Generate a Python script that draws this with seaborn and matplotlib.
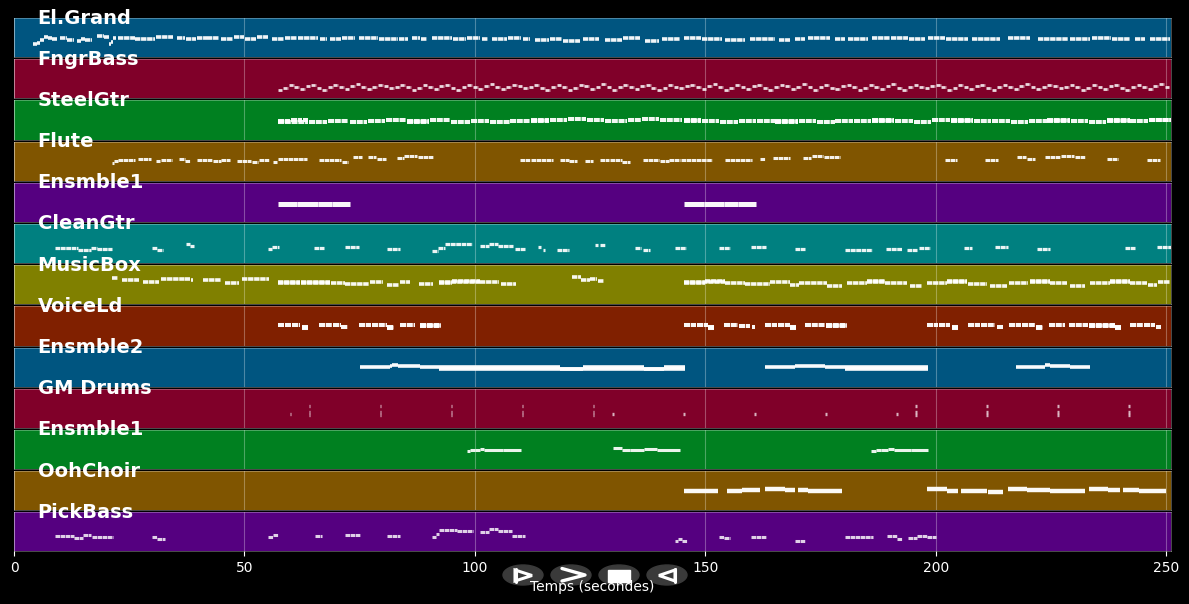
"""Piano-roll overview of a MIDI file: one coloured lane per track."""

import matplotlib

matplotlib.use("Agg")

import matplotlib.pyplot as plt
import numpy as np
import pandas as pd
import seaborn as sns
from matplotlib.patches import Ellipse, Polygon, Rectangle

# notes are (start seconds, end seconds, lane level)
EL_GRAND = [
    (4.2, 4.9, 13), (4.9, 5.6, 15), (5.6, 6.4, 18), (6.4, 7.3, 21), (7.3, 8.3, 20), (8.3, 9.4, 19),
    (9.9, 11.4, 20), (11.6, 13.1, 18), (13.6, 14.6, 17), (14.6, 15.3, 19), (15.3, 17, 18),
    (17.9, 19.6, 22), (19.6, 20.7, 21), (20.7, 21, 13), (21, 21.5, 16), (21.5, 22.2, 20),
    (22.5, 26.2, 20), (26.2, 30.5, 19), (30.9, 34.4, 20.5), (35.3, 37, 20), (37.4, 39.5, 19),
    (39.7, 41.8, 20), (41.8, 44.5, 19.5), (44.8, 47.5, 19), (47.8, 50, 21), (50.2, 52.6, 19),
    (52.8, 55, 21), (55.9, 58.5, 19), (58.7, 61.5, 20), (61.7, 65.9, 19.5), (66.3, 68, 19),
    (68.5, 71, 18.5), (71.2, 73.9, 19.5), (74.8, 79, 20), (79.2, 83.2, 19), (83.6, 85.4, 19),
    (86.3, 88, 20), (88.2, 89.7, 19), (90.6, 95, 20), (95.2, 98, 19), (98.2, 101, 20),
    (101.5, 102.8, 18.5), (103.6, 107, 19), (107.2, 110, 20), (110.5, 112, 19), (113, 116, 18),
    (116.2, 118.9, 19), (119, 122.7, 17), (123.4, 127, 19), (128.2, 132, 18), (132.2, 135.7, 19.5),
    (136.8, 140, 17), (140.5, 144.4, 19), (145.3, 149, 20), (149.2, 153.5, 19), (154.2, 158.5, 18),
    (159.6, 165, 19), (166, 168.3, 18), (169.4, 171.5, 18.5), (172.2, 177, 19.5), (178, 180.2, 19),
    (180.9, 185.2, 18.5), (186.1, 190, 19.5), (190.2, 194, 20), (194.2, 197.6, 19), (198.3, 202, 20),
    (202.2, 207, 19), (207.8, 213.9, 19), (215.6, 220.4, 20), (222.1, 228.6, 19), (229, 233.4, 18.5),
    (233.8, 238, 20), (238.2, 242, 19), (243.2, 245.4, 18.5), (246.4, 250.8, 19),
]
# FngrBass is a steady walking line, so only its levels are listed
FNGR_START = 57.2
FNGR_BEAT = 1.21
FNGR_LEVELS = [
    9, 11, 14, 12, 10, 13, 14, 11, 9, 12, 14, 12, 10, 13, 15, 12, 10, 12, 14, 13, 11, 12, 14, 12,
    9, 11, 14, 12, 10, 13, 14, 11, 9, 12, 14, 12, 10, 13, 15, 12, 10, 12, 14, 13, 11, 12, 14, 11,
    9, 12, 14, 12, 9, 11, 14, 13, 10, 12, 15, 12, 9, 12, 14, 12, 10, 13, 14, 11, 9, 11, 14, 12,
    11, 13, 14, 12, 10, 13, 15, 12, 9, 11, 14, 12, 10, 13, 14, 11, 9, 12, 14, 13, 10, 12, 15, 12,
    9, 12, 14, 11, 10, 13, 14, 12, 9, 11, 14, 12, 10, 13, 15, 11, 9, 12, 14, 12, 11, 13, 14, 12,
    9, 11, 14, 12, 10, 13, 14, 11, 9, 12, 14, 12, 10, 13, 15, 12, 10, 12, 14, 13, 11, 12, 14, 12,
    9, 11, 14, 12, 10, 13, 14, 11, 9, 12, 14, 12, 10, 13, 15, 12,
]
STEEL_GTR = [
    (57.2, 59.8, 19), (60, 62.5, 19.5), (62.7, 63.8, 20), (57.2, 63.8, 18), (64, 68, 18), (68.2, 72.5, 18.5),
    (73, 76.5, 18), (76.7, 80.5, 19), (80.7, 85, 19.5), (85.2, 90, 19), (85.2, 90, 18), (90.2, 94.5, 20),
    (94.7, 99, 18), (99.2, 103, 18.5), (103.2, 107.5, 18), (107.7, 112, 19), (112.2, 116, 19.5), (112.2, 116, 18.5),
    (116.2, 120, 20), (120.2, 124, 21), (124.2, 128, 20), (128.2, 133, 19), (133.2, 136, 20), (136.2, 140, 21),
    (140.2, 145, 20), (145.3, 149, 19), (145.3, 149, 20), (149.2, 153, 18.5), (153.2, 157, 18), (157.2, 161, 18.5),
    (161.2, 165, 19), (165.2, 170, 19), (165.2, 170, 18), (170.2, 174, 18.5), (174.2, 178, 18), (178.2, 182, 18.5),
    (182.2, 186, 19), (186.2, 191, 19), (186.2, 191, 20), (191.2, 195, 18.5), (195.2, 199, 18), (199.2, 203, 19.5),
    (203.2, 208, 19), (203.2, 208, 20), (208.2, 212, 18.5), (212.2, 216, 19), (216.2, 220, 18), (220.2, 224, 18.5),
    (224.2, 229, 19), (224.2, 229, 20), (229.2, 233, 18.5), (233.2, 237, 18), (237.2, 242, 19), (237.2, 242, 20),
    (242.2, 246, 18.5), (246.2, 251, 19.5), (246.2, 251, 20.5),
]
FLUTE = [
    (21.2, 21.8, 18), (21.8, 22.6, 20), (22.6, 26.2, 21.5), (27, 29.8, 22), (30.7, 31.6, 20), (31.8, 34.2, 21),
    (35.9, 37, 22), (37, 38.1, 20), (39.6, 43, 21.5), (43.2, 44.8, 20), (45, 46.8, 21), (48.3, 51.5, 20.5),
    (51.7, 53, 19.5), (53.2, 55.4, 21), (56.1, 57, 19), (57.2, 63.5, 22), (66.1, 71, 21), (71.2, 72.4, 19),
    (73.5, 75.4, 24), (76.7, 78.5, 24), (78.7, 80.8, 22), (83, 84.5, 23), (84.7, 87.5, 25.5), (87.7, 90.8, 24),
    (109.7, 112, 21), (112.2, 116.9, 21.5), (118.4, 120.3, 21), (120.5, 122.1, 20), (123.8, 125.5, 20), (127.1, 129, 21),
    (129.2, 131.8, 21.5), (132, 133.6, 19.5), (136.4, 140, 21), (140.2, 142, 20), (142.2, 144.4, 21), (144.6, 151.4, 21),
    (154.2, 160, 21), (161.8, 162.9, 22), (164.6, 168.3, 23), (171.1, 173, 23), (173.2, 175.5, 25.5), (175.7, 179.1, 24),
    (201.9, 204.5, 21), (210.6, 213.4, 21), (217.6, 219.5, 24), (219.7, 221.5, 22), (223.6, 227, 24), (227.2, 230, 25.5),
    (230.2, 232.3, 24), (237.1, 239.5, 22), (245.8, 248.6, 21),
]
ENSMBLE_A = [
    (57.2, 61.5, 18), (61.5, 66, 18.6), (66, 69, 18.6), (69, 72.8, 18), (145.3, 149.6, 18), (149.6, 154.1, 18.6),
    (154.1, 157.1, 18.6), (157.1, 161, 18),
]
CLEAN_GTR = [
    (8.8, 13.8, 15), (13.8, 16.8, 13), (16.8, 18, 15), (18, 21.2, 14), (30, 31, 15), (31, 32.4, 13), (37.4, 38.2, 20),
    (38.2, 39, 18), (55.2, 56, 14), (56, 57.4, 16), (65, 67.2, 15), (71.7, 74.8, 17), (81, 83.7, 14), (90.6, 92, 12),
    (92, 93.4, 15), (93.4, 99.3, 20), (101.2, 103, 18), (103, 105, 20), (105, 108.2, 18), (108.6, 110.8, 14),
    (113.6, 114.3, 16), (114.7, 115.3, 13), (117.9, 120.5, 13), (126, 126.8, 19), (127.2, 128.2, 19), (134.7, 136, 15),
    (136.5, 138, 13), (143.3, 145.7, 15), (152.9, 155.3, 15), (159.8, 163.1, 17), (169.4, 171.5, 14), (180.2, 186.1, 13),
    (189.1, 192.6, 14), (193.7, 196, 13), (196.3, 198.7, 15), (206.1, 207.8, 15), (212.8, 215.6, 17), (221.9, 224.7, 14),
    (241, 243.2, 15), (248, 251, 17),
]
MUSIC_BOX = [
    (21.2, 22.6, 27), (23.5, 27.2, 25), (27.9, 31.5, 23), (31.9, 37, 25.5), (37.2, 38.2, 26), (38.4, 38.9, 25),
    (40.9, 44.9, 25), (45.7, 48.9, 22), (49.4, 55.4, 26), (57.2, 62, 23), (57.2, 62, 21.5), (62.2, 68.5, 23),
    (62.2, 68.5, 21.5), (68.7, 71.7, 22), (71.9, 77, 21), (77.2, 80, 23), (81, 83.6, 20), (83.7, 86, 23),
    (87.9, 91, 21), (92.3, 95, 22), (92.3, 101, 23), (95, 101, 24), (101, 105.3, 23), (105.7, 109, 21),
    (121, 123, 28), (123, 125, 25), (125, 126.5, 26), (126.7, 128, 24),
    (145.3, 149.9, 22), (145.3, 154.2, 23), (150, 154.2, 24), (154.2, 158.5, 22), (158.5, 163.9, 21), (163.9, 168.3, 23),
    (168.3, 170.4, 20), (170.4, 176.3, 22), (176.3, 179.6, 19), (180.7, 185, 22), (185, 188.9, 23), (185, 188.9, 24),
    (188.9, 193.7, 22), (194.3, 197, 19), (198, 202.4, 22), (202.4, 206.7, 23), (202.4, 206.7, 24), (206.9, 211, 21),
    (211.7, 215.4, 19), (215.8, 220, 22), (220.4, 224.7, 23), (220.4, 224.7, 24), (224.7, 228.4, 22), (229, 232.3, 19),
    (233.4, 237.7, 22), (237.7, 242.1, 24), (237.7, 242.1, 23), (242.1, 245.8, 22), (246, 248, 20), (248.2, 250.8, 23),
]
VOICE_LD = [
    (57.2, 58.6, 21), (58.8, 60.2, 21), (60.4, 62, 21), (62.4, 63.7, 19), (62.4, 63.7, 17.5), (66.1, 69, 21),
    (69.2, 71, 21), (71, 72.4, 19), (74.8, 77.5, 21), (77.7, 81, 21), (81, 82.4, 19), (81, 82.4, 17.5), (83.7, 87.1, 21),
    (88, 92.6, 20), (88, 92.6, 21), (145.3, 148, 21), (148.2, 150.5, 21), (150.5, 151.8, 19), (150.5, 151.8, 17.5),
    (154, 157, 21), (157.2, 159.6, 20), (160, 160.7, 18.5), (162.9, 165.5, 21), (165.7, 168.3, 21), (168.3, 169.6, 19),
    (168.3, 169.6, 17.5), (171.5, 175.9, 21), (176.1, 180.7, 20), (176.1, 180.7, 21), (198, 200.5, 21), (200.7, 203, 21),
    (203.4, 204.8, 19), (203.4, 204.8, 17.5), (206.9, 209.5, 21), (209.7, 212.8, 21), (213.2, 214.5, 19),
    (215.8, 218.5, 21), (218.7, 221.5, 21), (221.7, 223.2, 19), (221.7, 223.2, 17.5), (224.5, 228, 21), (228.9, 233, 21),
    (233.2, 238.8, 20), (233.2, 238.8, 21), (238.8, 240.1, 19), (238.8, 240.1, 17.5), (242.1, 245, 21), (245.2, 247.5, 21),
    (247.7, 248.8, 19),
]
ENSMBLE_B = [
    (75, 81.5, 20), (81.5, 82.1, 21), (82.1, 83.2, 22), (83.2, 88, 21), (88, 92.3, 20), (92.3, 118.4, 19.8),
    (92.3, 118.4, 18.6), (118.4, 123.4, 18.6), (118.4, 123.4, 17.6), (123.4, 136.6, 19.8), (123.4, 136.6, 18.6),
    (136.6, 141, 18.6), (136.6, 141, 17.6), (141, 145.5, 19.8), (141, 145.5, 18.6), (162.9, 169.4, 20), (169.4, 170.4, 21),
    (170.4, 175.9, 21), (175.9, 180.2, 20), (180.2, 198.2, 19.8), (180.2, 198.2, 18.6), (217.3, 223.6, 20),
    (223.6, 224.7, 22), (224.7, 229, 21), (229, 233.4, 20),
]
GM_DRUMS = [
    (59.8, 60.2, 14),
    (63.9, 64.3, 22), (63.9, 64.3, 16), (63.9, 64.3, 13),
    (79.3, 79.7, 22), (79.3, 79.7, 16), (79.3, 79.7, 13),
    (94.7, 95.1, 22), (94.7, 95.1, 16), (94.7, 95.1, 13),
    (110.1, 110.5, 22), (110.1, 110.5, 16), (110.1, 110.5, 13),
    (125.5, 125.9, 22), (125.5, 125.9, 16), (125.5, 125.9, 13),
    (129.7, 130.1, 14), (145.1, 145.5, 14), (160.5, 160.9, 14), (175.9, 176.3, 14), (191.3, 191.7, 14),
    (195.4, 195.8, 22), (195.4, 195.8, 16), (195.4, 195.8, 13),
    (210.8, 211.2, 22), (210.8, 211.2, 16), (210.8, 211.2, 13),
    (226.2, 226.6, 22), (226.2, 226.6, 16), (226.2, 226.6, 13),
    (241.6, 242, 22), (241.6, 242, 16), (241.6, 242, 13),
]
ENSMBLE_C = [
    (98.2, 99, 18), (99, 100, 19), (100, 101, 20), (101, 102, 21), (102, 106, 20), (106, 109.9, 19),
    (129.9, 131.8, 22), (131.8, 133.6, 20), (133.6, 136.6, 19), (136.6, 139.6, 21), (139.6, 144.4, 19),
    (185.9, 187, 18), (187, 188, 19), (188, 189.6, 20), (189.6, 191, 21), (191, 194.5, 20), (194.5, 198.2, 19),
]
OOH_CHOIR = [
    (145.3, 152.7, 20), (154.6, 158, 19.5), (158, 161.8, 20.5), (162.9, 167.2, 22), (167.2, 169.4, 20.5), (170, 172.2, 21),
    (172.2, 174.1, 20), (174.1, 179.6, 20), (198, 202.4, 22), (202.4, 204.8, 20), (205.4, 207.4, 20), (207.4, 211, 19.5),
    (211.3, 214.5, 19), (215.6, 219.7, 22), (219.7, 222.5, 20.5), (222.5, 224.7, 21), (224.7, 232.3, 20),
    (233.2, 237.3, 22), (237.3, 239.9, 20.5), (240.6, 244, 21), (244, 249.9, 20),
]
PICK_BASS = [
    (8.8, 13.1, 16), (13.1, 15, 14), (15, 16.8, 17), (17, 21.4, 15), (30, 31, 15), (31, 32.7, 13), (55.2, 56.2, 15),
    (56.2, 57.2, 17), (65.2, 66.9, 16), (71.7, 75, 17), (81, 83.7, 16), (90.6, 91.5, 15), (91.5, 92.3, 18),
    (92.3, 96, 21.5), (96, 99.5, 21), (101.2, 103, 20), (103, 105, 23), (105, 108, 21), (108, 110.8, 16),
    (143.3, 144, 11), (144, 145, 13), (145, 145.9, 11), (152.9, 154, 15), (154, 155.3, 14), (159.8, 163.1, 15),
    (169.4, 171.5, 11), (180.2, 186.3, 15), (189.3, 191.5, 16), (191.5, 192.6, 13), (193.9, 196, 14),
    (196, 198, 16), (198, 200, 15),
]

TRACK_NAMES = ["El.Grand", "FngrBass", "SteelGtr", "Flute", "Ensmble1", "CleanGtr", "MusicBox",
               "VoiceLd", "Ensmble2", "GM Drums", "Ensmble1", "OohChoir", "PickBass"]
LANE_COLORS = ["#005580", "#800029", "#008020", "#805500", "#550080", "#008080", "#808000",
               "#802000", "#005580", "#800029", "#008020", "#805500", "#550080"]
# line thickness, opacity and seams of the notes in each lane
NOTE_WIDTHS = [2.6, 2.0, 2.9, 2.2, 3.6, 2.3, 2.6, 2.9, 2.6, 2.4, 2.2, 3.2, 2.2]
NOTE_ALPHAS = [.95, .85, .95, .92, .97, .92, .95, .97, .98, .7, .92, .97, .82]
HAS_SEAMS = [True, True, True, True, False, True, True, True, False, False, False, False, True]
X_TICKS = [0, 50, 100, 150, 200, 250]

fngr_bass = [(FNGR_START + i * FNGR_BEAT, FNGR_START + (i + 0.85) * FNGR_BEAT, lev)
             for i, lev in enumerate(FNGR_LEVELS)]
TRACKS = [EL_GRAND, fngr_bass, STEEL_GTR, FLUTE, ENSMBLE_A, CLEAN_GTR, MUSIC_BOX,
          VOICE_LD, ENSMBLE_B, GM_DRUMS, ENSMBLE_C, OOH_CHOIR, PICK_BASS]


def note_frame(notes):
    rows = []
    for i, (start, end, level) in enumerate(notes):
        rows.append((i, start, level))
        rows.append((i, end, level))
    return pd.DataFrame(rows, columns=["note", "t", "level"])


sns.set_theme(style="dark", rc={
    "figure.facecolor": "black",
    "axes.labelcolor": "white",
    "xtick.color": "white",
    "text.color": "white",
    "font.family": "DejaVu Sans",
})

fig, axes = plt.subplots(13, 1, sharex=True, figsize=(11.89, 6.04), dpi=100)
fig.subplots_adjust(left=14 / 1189, right=1171 / 1189, top=1 - 18 / 604, bottom=1 - 551.5 / 604, hspace=0.05)

for i, ax in enumerate(axes):
    # the tiny dash gaps stand in for the seams between neighbouring notes
    style = (0, (1.5, 0.18)) if HAS_SEAMS[i] else "-"
    sns.lineplot(data=note_frame(TRACKS[i]), x="t", y="level", units="note", estimator=None, sort=False,
                 color="white", alpha=NOTE_ALPHAS[i], lw=NOTE_WIDTHS[i], solid_capstyle="butt",
                 dash_capstyle="butt", linestyle=style, ax=ax)
    ax.set_facecolor(LANE_COLORS[i])
    ax.set_xlim(0, 251)
    ax.set_ylim(0, 40)
    ax.set_yticks([])
    ax.set_ylabel("")
    ax.set_xticks(X_TICKS)
    ax.grid(axis="x", color="white", alpha=0.3, lw=0.8)
    ax.set_axisbelow(True)
    ax.tick_params(axis="x", bottom=i == 12, length=3.5, width=0.8, labelsize=10, pad=3.5, colors="white")
    for spine in ax.spines.values():
        spine.set_edgecolor((1, 1, 1, 0.35))
        spine.set_linewidth(0.6)
    ax.text(0.0205, 1.0, TRACK_NAMES[i], transform=ax.transAxes, color="white", fontsize=14,
            fontweight="bold", va="center", ha="left", clip_on=False, zorder=10)

axes[-1].set_xlabel("")
fig.text(592 / 1189, 1 - 587 / 604, "Temps (secondes)", color="white", fontsize=10, ha="center", va="center")

# transport buttons sit on top of everything, drawn in figure pixels
overlay = fig.add_axes([0, 0, 1, 1], facecolor="none")
overlay.set_xlim(0, 1189)
overlay.set_ylim(604, 0)
overlay.axis("off")
for cx in (523, 571, 619, 667):
    overlay.add_patch(Ellipse((cx, 575), 40, 20, color="#3a3a3a"))
overlay.add_patch(Polygon([(515, 570), (532, 575.5), (515, 581)], fill=False, ec="white", lw=2.2))
overlay.plot([515.5, 515.5], [569, 582], color="white", lw=2.2)
overlay.plot([562, 585, 562], [568.5, 575, 581], color="white", lw=2.4)
overlay.add_patch(Rectangle((608, 569.5), 22, 12, color="white"))
overlay.add_patch(Polygon([(675, 570), (659, 575.5), (675, 581)], fill=False, ec="white", lw=2.2))
overlay.plot([675, 675], [569, 582], color="white", lw=2.2)

fig.savefig("out.png", dpi=100, facecolor="black")
